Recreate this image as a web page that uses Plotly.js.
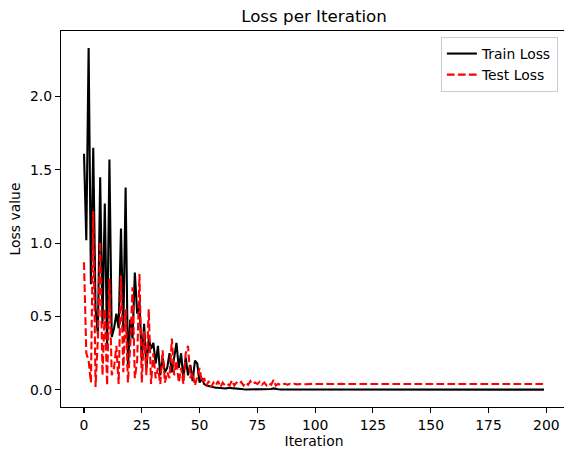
<!DOCTYPE html>
<html>
<head>
<meta charset="utf-8">
<script src="https://cdn.plot.ly/plotly-3.0.1.min.js"></script>
<style>html,body{margin:0;padding:0;background:#fff;overflow:hidden;}#chart{width:567px;height:451px;}</style>
</head>
<body>
<div id="chart"></div>
<script>
const trainLoss = [
1.61,1.02,2.33,0.72,1.65,0.55,0.38,1.45,0.45,1.27,
0.30,1.57,0.36,0.42,0.52,0.42,1.10,0.40,1.38,0.15,
0.48,0.35,0.80,0.52,0.60,0.20,0.45,0.15,0.35,0.28,
0.32,0.18,0.30,0.10,0.22,0.12,0.15,0.25,0.12,0.22,
0.32,0.15,0.25,0.08,0.22,0.10,0.17,0.06,0.20,0.18,
0.05,0.08,0.04,0.03,0.025,0.02,0.02,0.015,0.015,0.012,
0.012,0.010,0.012,0.015,0.012,0.010,0.005,0.004,0.004,0.004,
0.003,0.003,0.003,0.004,0.003,0.003,0.004,0.003,0.003,0.004,
0.005,0.006,0.010,0.005,0.004,0.003,0.003,0.003,0.003,0.003,
0.003,0.003,0.003,0.003,0.003,0.003,0.003,0.003,0.003,0.003,
0.003,0.003,0.003,0.003,0.003,0.003,0.003,0.003,0.003,0.003,
0.003,0.003,0.003,0.003,0.003,0.003,0.003,0.003,0.003,0.003,
0.003,0.003,0.003,0.003,0.003,0.003,0.003,0.003,0.003,0.003,
0.002,0.002,0.002,0.002,0.002,0.002,0.002,0.002,0.002,0.002,
0.002,0.002,0.002,0.002,0.002,0.002,0.002,0.002,0.002,0.002,
0.002,0.002,0.002,0.002,0.002,0.002,0.002,0.002,0.002,0.002,
0.002,0.002,0.002,0.002,0.002,0.002,0.002,0.002,0.002,0.002,
0.002,0.002,0.002,0.002,0.002,0.002,0.002,0.002,0.002,0.002,
0.002,0.002,0.002,0.002,0.002,0.002,0.002,0.002,0.002,0.002,
0.002,0.002,0.002,0.002,0.002,0.002,0.002,0.002,0.002,0.002
];
const testLoss = [
0.87,0.25,0.20,0.05,1.22,0.02,0.35,1.01,0.10,0.55,
0.03,0.76,0.10,0.15,0.30,0.04,0.78,0.12,0.55,0.05,
0.30,0.70,0.08,0.20,0.79,0.05,0.40,0.10,0.55,0.04,
0.25,0.08,0.15,0.04,0.27,0.05,0.12,0.08,0.35,0.10,
0.20,0.05,0.15,0.04,0.25,0.30,0.08,0.12,0.03,0.10,
0.15,0.05,0.08,0.03,0.06,0.02,0.05,0.03,0.06,0.02,
0.05,0.03,0.04,0.03,0.065,0.03,0.05,0.04,0.055,0.03,
0.05,0.035,0.06,0.04,0.05,0.04,0.055,0.035,0.05,0.03,
0.045,0.035,0.068,0.03,0.042,0.032,0.038,0.042,0.036,0.041,
0.037,0.042,0.038,0.041,0.039,0.042,0.039,0.041,0.040,0.041,
0.040,0.041,0.040,0.041,0.040,0.041,0.040,0.041,0.040,0.041,
0.040,0.041,0.040,0.040,0.040,0.040,0.040,0.040,0.040,0.040,
0.040,0.040,0.040,0.040,0.040,0.040,0.040,0.040,0.040,0.040,
0.040,0.040,0.040,0.040,0.040,0.040,0.040,0.040,0.040,0.040,
0.040,0.040,0.040,0.040,0.040,0.040,0.040,0.040,0.040,0.040,
0.040,0.040,0.040,0.040,0.040,0.040,0.040,0.040,0.040,0.040,
0.040,0.040,0.040,0.040,0.040,0.040,0.040,0.040,0.040,0.040,
0.040,0.040,0.040,0.040,0.040,0.040,0.040,0.040,0.040,0.040,
0.040,0.040,0.040,0.040,0.040,0.040,0.040,0.040,0.040,0.040,
0.040,0.040,0.040,0.040,0.040,0.040,0.040,0.040,0.040,0.040
];
const iterations = trainLoss.map((_, i) => i);
const xTicks = [0,25,50,75,100,125,150,175,200];
const yTicks = [0.0,0.5,1.0,1.5,2.0];

const font = 'DejaVu Sans, sans-serif';
const traces = [
  {x: iterations, y: trainLoss, type: 'scatter', mode: 'lines', name: 'Train Loss',
   line: {color: '#000000', width: 2.1}},
  {x: iterations, y: testLoss, type: 'scatter', mode: 'lines', name: 'Test Loss',
   line: {color: '#ff0000', width: 2.1, dash: '7.7px,3.3px'}}
];
const axisCommon = {
  showline: true, mirror: true, linecolor: '#000', linewidth: 1.1,
  showgrid: false, zeroline: false, ticks: 'outside', ticklen: 5, tickwidth: 1.1,
  tickcolor: '#000', tickfont: {family: font, size: 13.9, color: '#000'}
};
const layout = {
  width: 567, height: 451,
  margin: {l: 61, r: 0, t: 31, b: 44},
  paper_bgcolor: '#fff', plot_bgcolor: '#fff',
  font: {family: font, color: '#000'},
  title: {text: 'Loss per Iteration', font: {family: font, size: 16.7, color: '#000'},
          x: 0.5, xref: 'paper', y: 1 - 16/451, yref: 'container', yanchor: 'middle'},
  xaxis: Object.assign({}, axisCommon, {
    range: [-9.95, 208.95], tickvals: xTicks, ticktext: xTicks.map(String),
    title: {text: 'Iteration', font: {family: font, size: 13.9, color: '#000'}, standoff: 4}
  }),
  yaxis: Object.assign({}, axisCommon, {
    range: [-0.1165, 2.4465], tickvals: yTicks, ticktext: yTicks.map(v => v.toFixed(1)),
    title: {text: 'Loss value', font: {family: font, size: 13.9, color: '#000'}, standoff: 6}
  }),
  showlegend: true,
  legend: {x: 0.982, y: 0.984, xanchor: 'right', yanchor: 'top',
           bgcolor: 'rgba(255,255,255,0.8)', bordercolor: '#cccccc', borderwidth: 1,
           font: {family: font, size: 13.9, color: '#000'}, itemwidth: 30, tracegroupgap: 0}
};
Plotly.newPlot('chart', traces, layout, {displayModeBar: false, staticPlot: true});
</script>
</body>
</html>
